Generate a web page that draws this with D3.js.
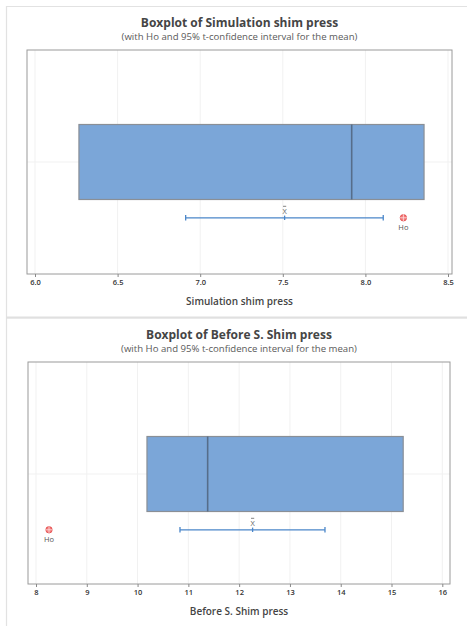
<!DOCTYPE html>
<html>
<head>
<meta charset="utf-8">
<script src="https://cdn.jsdelivr.net/npm/d3@7"></script>
<style>
body{margin:0;background:#fff;}
svg{display:block;font-family:"Open Sans",sans-serif;}
</style>
</head>
<body>
<div id="wrapper"></div>
<script>
// Data
const titles = ["Boxplot of Simulation shim press", "Boxplot of Before S. Shim press"];
const subtitle = "(with Ho and 95% t-confidence interval for the mean)";
const axisTitles = ["Simulation shim press", "Before S. Shim press"];
const q1 = [6.266, 10.185];
const median = [7.917, 11.38];
const q3 = [8.355, 15.23];
const mean = [7.511, 12.265];
const ciLow = [6.912, 10.835];
const ciHigh = [8.108, 13.69];
const ho = [8.23, 8.256];
const ticks1 = [6.0, 6.5, 7.0, 7.5, 8.0, 8.5];
const ticks2 = [8, 9, 10, 11, 12, 13, 14, 15, 16];
const tickSets = [ticks1, ticks2];
const tickFormats = [d3.format(".1f"), d3.format("d")];

// Dimension
const width = 467, height = 626;
const panels = [
  {frameTop: 50, frameBottom: 274, frameLeft: 27, frameRight: 452, x0: 35, x1: 448},
  {frameTop: 362, frameBottom: 584, frameLeft: 28, frameRight: 450, x0: 36, x1: 442.3}
];

const svg = d3.select("#wrapper").append("svg")
  .attr("width", width).attr("height", height);

// outer page borders
svg.append("line").attr("x1", 6.5).attr("x2", 6.5).attr("y1", 6).attr("y2", height)
  .attr("stroke", "#e2e2e2").attr("stroke-width", 1.2);
svg.append("line").attr("x1", 6).attr("x2", width).attr("y1", 6.5).attr("y2", 6.5)
  .attr("stroke", "#e2e2e2").attr("stroke-width", 1.2);
svg.append("rect").attr("x", 6).attr("y", 316.5).attr("width", width - 6).attr("height", 2.2)
  .attr("fill", "#e0e0e0");

function drawPanel(i) {
  const p = panels[i];
  const ticks = tickSets[i];
  const xScale = d3.scaleLinear()
    .domain([ticks[0], ticks[ticks.length - 1]])
    .range([p.x0, p.x1]);
  const g = svg.append("g");
  const boxTop = p.frameTop + 74.5;
  const boxH = 75;
  const boxMid = boxTop + boxH / 2;
  const ciY = p.frameTop + 167.8;
  const cx = (p.frameLeft + p.frameRight) / 2;

  // titles
  g.append("text").attr("x", cx).attr("y", p.frameTop - 23)
    .attr("text-anchor", "middle").attr("font-size", "12px").attr("font-weight", "bold")
    .attr("fill", "#454545").text(titles[i]);
  g.append("text").attr("x", cx).attr("y", p.frameTop - 10.5)
    .attr("text-anchor", "middle").attr("font-size", "9.6px")
    .attr("fill", "#5a5a5a").text(subtitle);

  // gridlines
  g.selectAll(".vgrid").data(ticks).enter().append("line")
    .attr("x1", d => xScale(d)).attr("x2", d => xScale(d))
    .attr("y1", p.frameTop).attr("y2", p.frameBottom)
    .attr("stroke", "#f1f1f1").attr("stroke-width", 1);
  g.append("line").attr("x1", p.frameLeft).attr("x2", p.frameRight)
    .attr("y1", boxMid).attr("y2", boxMid)
    .attr("stroke", "#f1f1f1").attr("stroke-width", 1);

  // frame
  g.append("rect").attr("x", p.frameLeft).attr("y", p.frameTop)
    .attr("width", p.frameRight - p.frameLeft).attr("height", p.frameBottom - p.frameTop)
    .attr("fill", "none").attr("stroke", "#9a9a9a").attr("stroke-width", 1);

  // axis
  const xAxisGenerator = d3.axisBottom(xScale).tickValues(ticks)
    .tickFormat(tickFormats[i]).tickSize(3).tickPadding(3);
  const xAxis = g.append("g").attr("transform", `translate(0,${p.frameBottom})`).call(xAxisGenerator);
  xAxis.select(".domain").remove();
  xAxis.selectAll(".tick line").attr("stroke", "#888");
  xAxis.selectAll(".tick text").attr("fill", "#333").attr("font-size", "7.5px")
    .attr("font-weight", "600").attr("font-family", "'Open Sans',sans-serif");

  g.append("text").attr("x", cx).attr("y", p.frameBottom + 31)
    .attr("text-anchor", "middle").attr("font-size", "10px").attr("font-weight", "600")
    .attr("fill", "#444").text(axisTitles[i]);

  // box
  g.append("rect").attr("x", xScale(q1[i])).attr("y", boxTop)
    .attr("width", xScale(q3[i]) - xScale(q1[i])).attr("height", boxH)
    .attr("fill", "#7ba6d8").attr("stroke", "#8a8f96").attr("stroke-width", 1.2);
  g.append("line").attr("x1", xScale(median[i])).attr("x2", xScale(median[i]))
    .attr("y1", boxTop).attr("y2", boxTop + boxH)
    .attr("stroke", "#566d8a").attr("stroke-width", 1.6);

  // confidence interval
  const ciColor = "#4a86c9";
  g.append("line").attr("x1", xScale(ciLow[i])).attr("x2", xScale(ciHigh[i]))
    .attr("y1", ciY).attr("y2", ciY).attr("stroke", ciColor).attr("stroke-width", 1.3);
  [ciLow[i], ciHigh[i]].forEach(v => {
    g.append("line").attr("x1", xScale(v)).attr("x2", xScale(v))
      .attr("y1", ciY - 2.8).attr("y2", ciY + 2.8).attr("stroke", ciColor).attr("stroke-width", 1.3);
  });
  g.append("line").attr("x1", xScale(mean[i])).attr("x2", xScale(mean[i]))
    .attr("y1", ciY - 2.2).attr("y2", ciY + 2.2).attr("stroke", ciColor).attr("stroke-width", 1.3);
  // x-bar label: an X with a short bar over it
  const mx = xScale(mean[i]);
  g.append("text").attr("x", mx).attr("y", ciY - 3.8)
    .attr("text-anchor", "middle").attr("font-size", "7.5px").attr("fill", "#666")
    .text("X");
  g.append("line").attr("x1", mx - 1.6).attr("x2", mx + 1.6)
    .attr("y1", ciY - 11.5).attr("y2", ciY - 11.5).attr("stroke", "#666").attr("stroke-width", 0.8);

  // Ho marker
  const hx = xScale(ho[i]);
  g.append("circle").attr("cx", hx).attr("cy", ciY).attr("r", 3.2)
    .attr("fill", "#f47a7a").attr("stroke", "#e04848").attr("stroke-width", 0.8);
  g.append("line").attr("x1", hx - 3.6).attr("x2", hx + 3.6).attr("y1", ciY).attr("y2", ciY)
    .attr("stroke", "#fcdede").attr("stroke-width", 0.8);
  g.append("line").attr("x1", hx).attr("x2", hx).attr("y1", ciY - 3.6).attr("y2", ciY + 3.6)
    .attr("stroke", "#fcdede").attr("stroke-width", 0.8);
  g.append("text").attr("x", hx).attr("y", ciY + 12)
    .attr("text-anchor", "middle").attr("font-size", "7.5px").attr("fill", "#555").text("Ho");
}

[0, 1].forEach(drawPanel);
</script>
</body>
</html>
